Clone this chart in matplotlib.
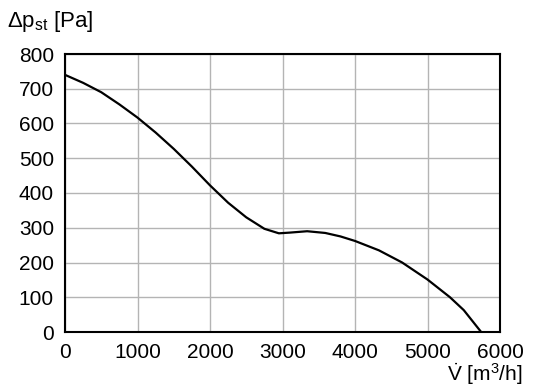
import matplotlib
matplotlib.use("Agg")
import matplotlib.pyplot as plt

fam = ['Liberation Sans', 'DejaVu Sans']
plt.rcParams['font.family'] = fam
plt.rcParams['mathtext.fontset'] = 'custom'
plt.rcParams['mathtext.rm'] = 'Liberation Sans'
plt.rcParams['mathtext.it'] = 'Liberation Sans'

flow = [0, 250, 500, 750, 1000, 1250, 1500, 1750, 2000, 2250, 2500, 2750, 2950,
        3100, 3340, 3590, 3800, 4000, 4330, 4650, 5000, 5310, 5500, 5740]
pressure = [740, 717, 690, 655, 617, 574, 527, 476, 422, 372, 330, 297, 284,
            286, 290, 285, 275, 262, 235, 200, 151, 100, 63, 0]

x_ticks = [0, 1000, 2000, 3000, 4000, 5000, 6000]
y_ticks = [0, 100, 200, 300, 400, 500, 600, 700, 800]

fig = plt.figure(figsize=(5.36, 3.88), dpi=100)
ax = fig.add_axes([65/536, 56/388, 435/536, 278/388])
ax.plot(flow, pressure, color='black', lw=1.6, solid_joinstyle='round',
        solid_capstyle='butt')
ax.set_xlim(0, 6000)
ax.set_ylim(0, 800)
ax.set_xticks(x_ticks)
ax.set_yticks(y_ticks)
ax.grid(True, color='#b4b4b4', lw=1.0)
ax.set_axisbelow(True)
for s in ax.spines.values():
    s.set_color('black')
    s.set_linewidth(1.5)
ax.tick_params(length=0, labelsize=15, pad=8)

fig.text(7/536, 1 - 21/388, r'$\Delta$p$_{\mathrm{st}}$ [Pa]', fontsize=16,
         ha='left', va='center')
fig.text(522/536, 1 - 381/388, r'$\dot{\mathrm{V}}$ [m$^{\mathrm{3}}$/h]', fontsize=15,
         ha='right', va='baseline')

fig.savefig('out.png', dpi=100)
